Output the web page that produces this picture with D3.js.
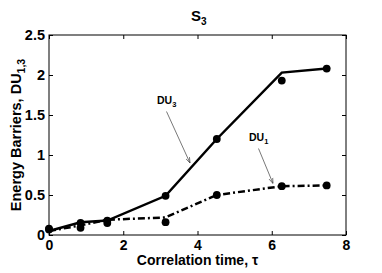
<!DOCTYPE html>
<html>
<head>
<meta charset="utf-8">
<script src="https://cdn.jsdelivr.net/npm/d3@7"></script>
<style>
  body { margin: 0; background: #fff; }
  text { font-family: "Liberation Sans Narrow", "Liberation Sans", Arial, sans-serif; font-weight: bold; }
</style>
</head>
<body>
<div id="chart"></div>
<script>
var width = 382;
var height = 273;

// correlation time values
var tau = [0, 0.85, 1.57, 3.14, 4.52, 6.27, 7.48];
// DU3: fitted line and measured points
var du3Line = [0.05, 0.16, 0.18, 0.49, 1.2, 2.03, 2.08];
var du3Pts = [0.08, 0.15, 0.18, 0.49, 1.2, 1.93, 2.08];
// DU1: fitted line and measured points
var du1Line = [0.05, 0.12, 0.19, 0.22, 0.5, 0.61, 0.62];
var du1Pts = [0.07, 0.09, 0.15, 0.16, 0.5, 0.61, 0.62];

var xTicks = [0, 2, 4, 6, 8];
var yTicks = [0, 0.5, 1, 1.5, 2, 2.5];

var margin = {left: 49, right: 36, top: 35, bottom: 38};

var x = d3.scaleLinear().domain([0, 8]).range([margin.left, width - margin.right]);
var y = d3.scaleLinear().domain([0, 2.5]).range([height - margin.bottom, margin.top]);

var svg = d3.select('#chart').append('svg')
    .attr('width', width)
    .attr('height', height);

var defs = svg.append('defs');
defs.append('marker')
    .attr('id', 'arrow')
    .attr('viewBox', '0 0 10 10')
    .attr('refX', 10).attr('refY', 5)
    .attr('markerWidth', 7).attr('markerHeight', 7)
    .attr('orient', 'auto')
    .append('path')
    .attr('d', 'M0,1.5 L10,5 L0,8.5')
    .attr('fill', 'none')
    .attr('stroke', '#444')
    .attr('stroke-width', 1.2);

// axes with inward ticks on all sides
var tickLen = 4;
svg.append('g')
    .attr('transform', 'translate(0,' + y(0) + ')')
    .call(d3.axisBottom(x).tickValues(xTicks).tickSize(-tickLen).tickPadding(5).tickFormat(d3.format('d')))
    .call(function (g) {
        g.select('.domain').remove();
        g.selectAll('text').attr('font-size', 14).attr('fill', '#000');
    });
svg.append('g')
    .attr('transform', 'translate(0,' + y(2.5) + ')')
    .call(d3.axisTop(x).tickValues(xTicks).tickSize(-tickLen).tickFormat(''))
    .call(function (g) { g.select('.domain').remove(); });
svg.append('g')
    .attr('transform', 'translate(' + x(0) + ',0)')
    .call(d3.axisLeft(y).tickValues(yTicks).tickSize(-tickLen).tickPadding(4).tickFormat(function (d) { return d; }))
    .call(function (g) {
        g.select('.domain').remove();
        g.selectAll('text').attr('font-size', 14.5).attr('fill', '#000');
    });
svg.append('g')
    .attr('transform', 'translate(' + x(8) + ',0)')
    .call(d3.axisRight(y).tickValues(yTicks).tickSize(-tickLen).tickFormat(''))
    .call(function (g) { g.select('.domain').remove(); });

svg.append('rect')
    .attr('x', x(0)).attr('y', y(2.5))
    .attr('width', x(8) - x(0)).attr('height', y(0) - y(2.5))
    .attr('fill', 'none').attr('stroke', '#000').attr('stroke-width', 1);

var line = d3.line()
    .x(function (d) { return x(d[0]); })
    .y(function (d) { return y(d[1]); });

svg.append('path')
    .datum(d3.zip(tau, du1Line))
    .attr('d', line)
    .attr('fill', 'none').attr('stroke', '#000')
    .attr('stroke-width', 2.5)
    .attr('stroke-dasharray', '7,3,2,3');

svg.append('path')
    .datum(d3.zip(tau, du3Line))
    .attr('d', line)
    .attr('fill', 'none').attr('stroke', '#000')
    .attr('stroke-width', 2.5);

svg.selectAll('circle.p3')
    .data(d3.zip(tau, du3Pts))
    .enter().append('circle')
    .attr('class', 'p3')
    .attr('cx', function (d) { return x(d[0]); })
    .attr('cy', function (d) { return y(d[1]); })
    .attr('r', 3.9);

svg.selectAll('circle.p1')
    .data(d3.zip(tau, du1Pts))
    .enter().append('circle')
    .attr('class', 'p1')
    .attr('cx', function (d) { return x(d[0]); })
    .attr('cy', function (d) { return y(d[1]); })
    .attr('r', 3.9);

// annotations
function label(tx, ty, main, sub) {
    var t = svg.append('text').attr('x', tx).attr('y', ty).attr('font-size', 10.5);
    t.append('tspan').text(main);
    t.append('tspan').attr('dy', 3).attr('font-size', 7.5).text(sub);
}
label(157, 104, 'DU', '3');
label(249, 141, 'DU', '1');

svg.append('line')
    .attr('x1', 166.5).attr('y1', 111.5).attr('x2', 190).attr('y2', 163)
    .attr('stroke', '#555').attr('stroke-width', 0.8).attr('marker-end', 'url(#arrow)');
svg.append('line')
    .attr('x1', 258.5).attr('y1', 148.5).attr('x2', 273).attr('y2', 183.5)
    .attr('stroke', '#555').attr('stroke-width', 0.8).attr('marker-end', 'url(#arrow)');

// title
var title = svg.append('text').attr('x', 191).attr('y', 21).attr('font-size', 15);
title.append('tspan').text('S');
title.append('tspan').attr('dy', 4).attr('font-size', 10).text('3');

// x label
svg.append('text')
    .attr('x', x(4)).attr('y', 265)
    .attr('text-anchor', 'middle').attr('font-size', 14)
    .text('Correlation time, τ');

// y label
var yl = svg.append('text')
    .attr('transform', 'translate(21,' + ((y(0) + y(2.5)) / 2) + ') rotate(-90)')
    .attr('text-anchor', 'middle').attr('font-size', 14.5);
yl.append('tspan').text('Energy Barriers, DU');
yl.append('tspan').attr('dy', 4).attr('font-size', 10.5).text('1,3');
</script>
</body>
</html>
